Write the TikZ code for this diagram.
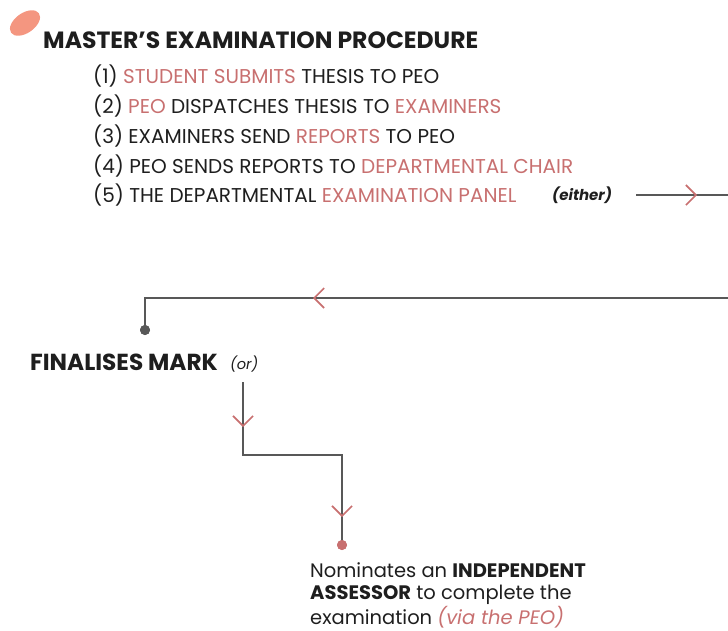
\documentclass[tikz,border=0pt]{standalone}
\usepackage{fontspec}
\setmainfont{Poppins}
\usepackage{xcolor}
\usetikzlibrary{arrows.meta, positioning, decorations.markings}

\definecolor{accent}{RGB}{200,112,112}
\definecolor{blob}{RGB}{244,150,128}
\definecolor{wire}{RGB}{88,88,88}
\definecolor{ink}{RGB}{30,30,30}

\newcommand{\hl}[1]{\textcolor{accent}{#1}}

\begin{document}
\begin{tikzpicture}[
        x=1pt, y=-1pt,
        steptext/.style={anchor=base west, inner sep=0pt, font=\fontsize{20}{22}\selectfont, text=ink},
        headtext/.style={anchor=base west, inner sep=0pt, font=\fontsize{23.5}{26}\selectfont\bfseries, text=ink},
        notetext/.style={anchor=base west, inner sep=0pt, font=\fontsize{14.6}{16}\selectfont\itshape, text=ink},
        flow/.style={draw=wire, line width=1.3pt},
        chevron/.style={postaction={decorate, decoration={markings,
                mark=at position #1 with {\arrow[accent, line width=1.6pt]{Straight Barb[length=10pt, width=20pt]}}}}},
        dot/.style={circle, fill=wire, inner sep=0pt, minimum size=10pt},
        ]
        \useasboundingbox (0,0) rectangle (728,630);

        % === HEADER ===
        \fill[blob, rotate around={35:(25,23)}] (25,23) ellipse (17pt and 10pt);
        \node[headtext] (title) at (43,48) {MASTER’S EXAMINATION PROCEDURE};

        % === STEPS ===
        \node[steptext] (step1) at (93,83) {(1) \hl{STUDENT SUBMITS} THESIS TO PEO};
        \node[steptext] (step2) at (93,113) {(2) \hl{PEO} DISPATCHES THESIS TO \hl{EXAMINERS}};
        \node[steptext] (step3) at (93,143) {(3) EXAMINERS SEND \hl{REPORTS} TO PEO};
        \node[steptext] (step4) at (93,173) {(4) PEO SENDS REPORTS TO \hl{DEPARTMENTAL CHAIR}};
        \node[steptext] (step5) at (93,202) {(5) THE DEPARTMENTAL \hl{EXAMINATION PANEL}};
        \node[notetext, font=\fontsize{15}{16}\selectfont\bfseries\itshape] (either) at (552,200) {(either)};

        % === OUTCOME 1 ===
        \node[headtext, font=\fontsize{23.2}{26}\selectfont\bfseries] (finalise) at (30,370) {FINALISES MARK};
        \node[notetext] (orword) at (230,369) {(or)};
        \node[dot] (finaliseDot) at (145,330) {};

        % === OUTCOME 2 ===
        \node[dot, fill=accent] (assessorDot) at (342,545) {};
        \node[anchor=base west, inner sep=0pt, align=left, text=ink,
            font=\fontsize{19.5}{22.5}\selectfont] (assessor) at (310,624)
            {Nominates an \textbf{INDEPENDENT}\\\textbf{ASSESSOR} to complete the\\examination \hl{\itshape (via the PEO)}};

        % === WIRING ===
        \coordinate (eitherOut) at (636,195);
        \coordinate (rightTop) at (728,195);
        \coordinate (rightMid) at (728,298);
        \coordinate (orDrop) at (243,382);
        \coordinate (jog) at (300,455);

        \draw[flow, chevron=61pt] (eitherOut) -- (rightTop);
        \draw[flow, chevron=415pt] (rightMid) -| (finaliseDot.center);
        \draw[flow, chevron=45pt, chevron=234pt] (orDrop) |- (jog) -| (assessorDot.center);
        \node[dot] at (finaliseDot) {};
        \node[dot, fill=accent] at (assessorDot) {};
\end{tikzpicture}
\end{document}
